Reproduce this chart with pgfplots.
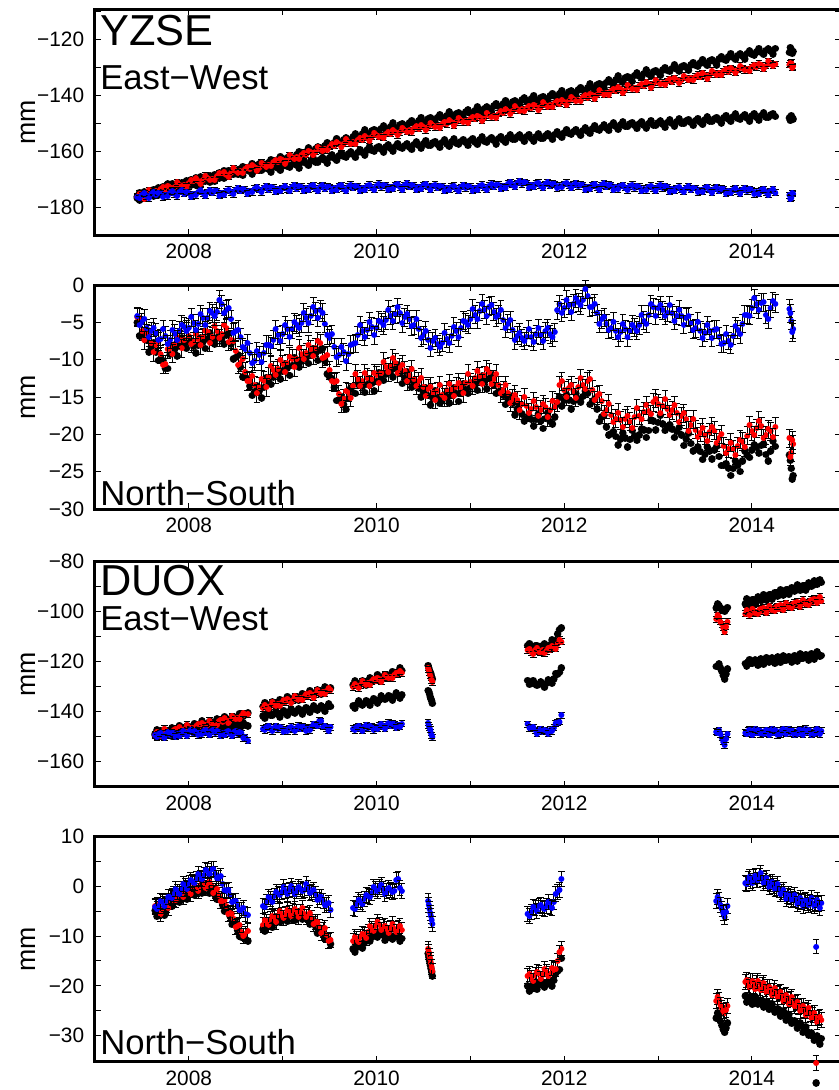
\documentclass[border=0pt]{standalone}
\usepackage{pgfplots}
\pgfplotsset{compat=1.18}
\usepackage{pgfplotstable}
\usepackage{fontspec}
\setmainfont{Liberation Sans}

% a cheap round dot: a very short stroke with round caps
\pgfdeclareplotmark{dot}{%
  \pgfpathmoveto{\pgfqpoint{0pt}{0pt}}%
  \pgfpathlineto{\pgfqpoint{0.01pt}{0pt}}%
  \pgfusepathqstroke}
% dot with its (fixed) black error bar and caps, drawn as one mark
\def\ebl{2pt}\def\ebcol{red}
\pgfdeclareplotmark{ebdot}{%
  \pgfsetlinewidth{0.6pt}\pgfsetbuttcap\pgfsetstrokecolor{black}%
  \pgfpathmoveto{\pgfqpoint{0pt}{-\ebl}}\pgfpathlineto{\pgfqpoint{0pt}{\ebl}}%
  \pgfpathmoveto{\pgfqpoint{-2pt}{-\ebl}}\pgfpathlineto{\pgfqpoint{2pt}{-\ebl}}%
  \pgfpathmoveto{\pgfqpoint{-2pt}{\ebl}}\pgfpathlineto{\pgfqpoint{2pt}{\ebl}}%
  \pgfusepathqstroke
  \pgfsetlinewidth{3.6pt}\pgfsetroundcap\pgfsetstrokecolor{\ebcol}%
  \pgfpathmoveto{\pgfqpoint{0pt}{0pt}}%
  \pgfpathlineto{\pgfqpoint{0.01pt}{0pt}}%
  \pgfusepathqstroke}

% YZSE: t, panel 1 (East-West) a1 c1 r1 b1, panel 2 (North-South) a2 c2 r2 b2
\pgfplotstableread{
t a1 c1 r1 b1 a2 c2 r2 b2
2007.45 -176.8 -176.2 -176.3 -176.4 -5.0 -5.1 -4.3 -4.2
2007.50 -175.6 -176.4 -176.0 -175.6 -6.8 -5.6 -6.2 -5.0
2007.55 -175.9 -175.2 -175.5 -176.2 -7.4 -6.4 -6.5 -5.8
2007.60 -174.4 -175.3 -174.6 -175.3 -8.3 -7.0 -7.8 -6.2
2007.65 -174.6 -173.9 -174.3 -175.8 -9.0 -7.3 -8.0 -6.4
2007.70 -173.5 -174.4 -173.5 -175.0 -9.9 -7.8 -9.3 -7.2
2007.75 -173.8 -173.1 -173.7 -175.6 -11.2 -7.9 -10.6 -6.8
2007.80 -172.6 -173.4 -172.8 -174.9 -9.3 -8.0 -8.4 -7.3
2007.85 -173.0 -172.3 -172.9 -175.4 -8.6 -7.4 -7.9 -6.5
2007.90 -172.0 -172.6 -171.9 -174.6 -8.2 -6.8 -7.3 -6.1
2007.95 -171.3 -171.8 -172.0 -175.3 -8.0 -6.5 -7.4 -5.6
2008.00 -171.8 -171.0 -171.3 -174.8 -7.7 -6.3 -6.8 -5.7
2008.05 -170.7 -171.4 -170.8 -175.3 -8.2 -6.0 -7.6 -5.1
2008.10 -171.0 -170.3 -170.5 -174.5 -8.1 -5.8 -7.2 -5.2
2008.15 -170.0 -170.7 -170.4 -175.1 -7.6 -5.3 -7.0 -4.4
2008.20 -169.8 -169.4 -169.5 -174.6 -7.2 -5.0 -6.3 -4.4
2008.25 -169.2 -169.9 -169.8 -174.9 -7.5 -4.7 -6.9 -3.8
2008.30 -169.3 -168.8 -169.0 -174.3 -7.1 -4.2 -6.2 -3.6
2008.35 -168.2 -168.9 -168.3 -175.0 -7.2 -3.6 -6.6 -2.6
2008.40 -168.3 -167.9 -168.4 -174.2 -6.7 -3.9 -5.8 -3.3
2008.45 -167.1 -168.3 -167.6 -174.7 -7.9 -5.5 -7.3 -4.6
2008.50 -167.4 -167.2 -167.0 -173.9 -9.7 -6.8 -8.8 -6.2
2008.55 -166.4 -167.6 -167.2 -174.3 -11.0 -7.9 -10.4 -7.0
2008.60 -166.3 -166.8 -166.3 -173.7 -12.4 -9.2 -11.6 -8.6
2008.65 -165.6 -167.3 -166.4 -174.2 -13.5 -10.0 -12.8 -9.1
2008.70 -165.7 -166.4 -165.5 -173.4 -14.3 -10.8 -13.4 -10.2
2008.75 -164.6 -166.8 -165.9 -173.9 -14.2 -10.3 -13.6 -9.4
2008.80 -164.8 -165.9 -164.9 -173.2 -13.7 -9.7 -12.8 -9.1
2008.85 -164.0 -166.4 -164.8 -173.8 -13.0 -8.9 -12.3 -8.0
2008.90 -163.9 -165.6 -164.0 -173.0 -12.3 -7.9 -11.4 -7.3
2008.95 -163.0 -166.0 -163.9 -173.6 -11.9 -7.6 -11.2 -6.7
2009.00 -163.3 -165.2 -163.2 -173.1 -11.5 -7.2 -10.6 -6.6
2009.05 -162.2 -165.4 -163.1 -173.6 -11.1 -6.8 -10.5 -5.9
2009.10 -162.3 -164.7 -162.2 -172.8 -10.8 -6.5 -9.9 -5.9
2009.15 -161.2 -165.0 -162.1 -173.4 -10.5 -6.2 -9.9 -5.3
2009.20 -161.0 -164.1 -161.3 -172.7 -10.2 -5.7 -9.3 -5.1
2009.25 -160.2 -164.3 -161.2 -173.3 -9.8 -5.3 -9.1 -4.4
2009.30 -160.1 -163.5 -160.3 -172.6 -9.3 -4.8 -8.6 -4.1
2009.35 -159.2 -163.8 -160.2 -173.4 -9.2 -4.4 -8.4 -3.5
2009.40 -158.9 -162.9 -159.3 -172.7 -8.7 -4.0 -7.8 -3.3
2009.45 -158.0 -163.2 -159.1 -173.5 -10.2 -5.8 -9.6 -5.2
2009.50 -157.8 -162.3 -158.3 -172.8 -12.3 -7.9 -11.4 -7.1
2009.55 -156.8 -162.4 -158.1 -173.3 -13.7 -9.0 -13.0 -8.3
2009.60 -156.7 -161.7 -157.4 -172.6 -15.4 -10.1 -14.6 -9.4
2009.65 -155.9 -161.9 -157.3 -173.4 -16.0 -9.9 -15.2 -9.0
2009.70 -155.7 -161.0 -156.6 -172.7 -15.2 -10.0 -14.4 -9.3
2009.75 -154.8 -161.2 -156.8 -173.2 -14.4 -8.6 -13.5 -7.9
2009.80 -154.7 -160.4 -155.9 -172.6 -13.3 -7.6 -12.6 -6.7
2009.85 -153.8 -160.5 -155.8 -173.3 -13.6 -6.9 -12.9 -6.2
2009.90 -153.6 -159.6 -155.1 -172.4 -13.3 -6.8 -12.4 -6.0
2009.95 -152.7 -159.8 -154.9 -173.0 -13.2 -6.5 -12.6 -5.6
2010.00 -152.8 -158.9 -154.2 -172.3 -12.9 -6.4 -12.1 -5.7
2010.05 -151.9 -159.2 -154.4 -172.9 -12.5 -5.9 -11.8 -5.0
2010.10 -152.0 -158.5 -153.7 -172.2 -11.9 -5.4 -11.0 -4.7
2010.15 -151.2 -159.0 -153.8 -172.8 -11.5 -5.0 -10.9 -4.1
2010.20 -151.4 -158.3 -153.0 -172.1 -11.2 -4.6 -10.4 -3.9
2010.25 -150.6 -158.7 -153.2 -172.9 -11.8 -4.7 -11.1 -3.8
2010.30 -150.8 -158.0 -152.4 -172.2 -12.4 -5.0 -11.5 -4.3
2010.35 -149.9 -158.4 -152.5 -172.8 -12.8 -5.5 -12.1 -4.6
2010.40 -150.0 -157.6 -151.8 -172.3 -13.4 -6.1 -12.6 -5.4
2010.45 -149.1 -158.0 -151.9 -172.9 -13.8 -6.8 -12.9 -5.9
2010.50 -149.3 -157.3 -151.2 -172.2 -14.3 -7.4 -13.6 -6.7
2010.55 -148.4 -157.7 -151.4 -172.8 -14.8 -8.0 -13.9 -7.3
2010.60 -148.6 -157.0 -150.7 -172.5 -15.1 -8.4 -14.4 -7.5
2010.65 -147.8 -157.5 -150.8 -173.2 -15.1 -8.6 -14.2 -7.9
2010.70 -148.0 -156.8 -150.1 -172.6 -15.4 -8.6 -14.7 -7.7
2010.75 -147.2 -157.3 -150.3 -173.3 -15.0 -7.9 -14.1 -7.2
2010.80 -147.4 -156.6 -149.5 -172.7 -14.7 -7.7 -14.0 -6.8
2010.85 -146.6 -157.1 -149.6 -173.4 -14.5 -6.9 -13.6 -6.2
2010.90 -146.9 -156.4 -148.9 -172.8 -14.4 -6.7 -13.7 -5.8
2010.95 -146.0 -156.9 -149.0 -173.3 -14.0 -5.8 -13.1 -5.0
2011.00 -146.3 -156.2 -148.3 -172.7 -13.7 -5.5 -13.0 -4.6
2011.05 -145.4 -156.7 -148.5 -173.2 -13.4 -4.7 -12.5 -4.0
2011.10 -145.5 -155.9 -147.8 -172.5 -12.9 -4.4 -12.2 -3.5
2011.15 -144.7 -156.4 -147.9 -173.0 -13.0 -4.0 -12.1 -3.3
2011.20 -144.9 -155.7 -147.1 -172.3 -12.5 -3.8 -11.7 -2.9
2011.25 -143.8 -156.2 -147.3 -172.8 -13.4 -4.3 -12.6 -3.6
2011.30 -144.0 -155.5 -146.5 -172.0 -14.3 -4.9 -13.4 -4.0
2011.35 -143.1 -156.0 -146.3 -172.5 -14.8 -5.4 -14.1 -4.7
2011.40 -143.3 -155.2 -145.6 -171.6 -15.3 -6.1 -14.4 -5.2
2011.45 -142.4 -155.6 -145.5 -172.0 -15.9 -6.7 -15.2 -6.0
2011.50 -142.5 -154.8 -144.8 -171.3 -16.6 -7.6 -15.4 -6.8
2011.55 -141.7 -155.3 -145.0 -171.8 -17.3 -7.8 -16.0 -7.1
2011.60 -142.0 -154.7 -144.4 -171.4 -17.9 -7.8 -16.2 -6.9
2011.65 -141.2 -155.4 -144.6 -172.1 -18.0 -7.7 -16.6 -7.0
2011.70 -141.5 -154.8 -143.9 -171.6 -18.0 -7.5 -16.3 -6.6
2011.75 -140.8 -155.3 -144.2 -172.3 -18.2 -7.4 -16.7 -6.7
2011.80 -141.0 -154.5 -143.4 -171.7 -17.9 -7.1 -16.4 -6.2
2011.85 -140.1 -154.6 -143.5 -172.4 -18.3 -7.3 -16.8 -6.6
2011.90 -140.3 -153.9 -142.7 -171.8 -17.7 -7.2 -16.4 -6.3
2011.95 -139.4 -154.2 -142.9 -172.3 -15.0 -3.3 -13.4 -2.6
2012.00 -139.7 -153.4 -142.3 -171.7 -15.5 -3.9 -14.1 -3.1
2012.05 -138.8 -153.6 -142.1 -172.2 -15.4 -3.5 -13.8 -2.7
2012.10 -139.0 -152.9 -141.4 -171.9 -15.6 -3.3 -14.2 -2.5
2012.15 -138.0 -153.3 -141.5 -172.6 -15.3 -3.0 -13.7 -2.3
2012.20 -138.2 -152.5 -140.7 -172.1 -14.9 -2.9 -13.4 -2.0
2012.25 -137.3 -152.9 -140.8 -172.8 -14.5 -2.4 -12.9 -1.5
2012.30 -137.2 -152.0 -139.9 -172.2 -15.6 -3.6 -14.0 -2.9
2012.35 -136.3 -152.1 -139.8 -172.9 -16.6 -4.6 -14.8 -3.8
2012.40 -136.2 -151.4 -139.1 -172.2 -17.7 -5.3 -15.6 -4.6
2012.45 -135.3 -151.6 -139.0 -172.8 -19.0 -6.0 -16.7 -5.2
2012.50 -135.4 -150.8 -138.3 -172.2 -19.9 -6.5 -17.4 -5.8
2012.55 -134.4 -151.2 -138.4 -172.9 -20.3 -7.0 -17.9 -6.1
2012.60 -134.6 -150.6 -137.8 -172.5 -20.6 -7.0 -18.1 -6.3
2012.65 -133.7 -151.0 -137.9 -173.2 -20.5 -6.8 -17.9 -5.9
2012.70 -133.8 -150.3 -137.1 -172.6 -20.7 -6.8 -18.3 -6.1
2012.75 -132.9 -150.8 -137.3 -173.3 -20.2 -6.5 -17.7 -5.7
2012.80 -133.1 -150.2 -136.5 -172.7 -20.1 -6.2 -17.5 -5.4
2012.85 -132.2 -150.7 -136.6 -173.4 -19.4 -5.5 -17.0 -4.8
2012.90 -132.4 -150.0 -135.9 -172.8 -19.5 -4.9 -16.9 -4.0
2012.95 -131.5 -150.5 -136.0 -173.3 -18.2 -3.8 -15.7 -3.0
2013.00 -131.7 -149.8 -135.3 -172.7 -18.4 -3.8 -15.9 -3.1
2013.05 -130.9 -150.3 -135.4 -173.3 -18.6 -4.2 -16.2 -3.4
2013.10 -131.1 -149.6 -134.8 -172.9 -19.1 -4.4 -16.6 -3.7
2013.15 -130.3 -150.1 -135.0 -173.6 -19.3 -4.7 -16.8 -3.8
2013.20 -130.5 -149.4 -134.4 -173.1 -19.6 -4.8 -17.1 -4.1
2013.25 -129.7 -149.9 -134.6 -173.8 -20.1 -5.1 -17.6 -4.2
2013.30 -129.9 -149.2 -133.8 -173.2 -20.6 -5.1 -18.0 -4.4
2013.35 -129.0 -149.7 -133.9 -173.9 -21.2 -5.9 -18.8 -5.1
2013.40 -129.2 -149.0 -133.2 -173.2 -22.0 -6.5 -19.4 -5.8
2013.45 -128.3 -149.5 -133.4 -173.8 -22.3 -6.9 -19.8 -6.1
2013.50 -128.6 -148.8 -132.8 -173.3 -22.7 -7.1 -20.1 -6.4
2013.55 -127.7 -149.1 -132.7 -173.9 -22.2 -6.9 -19.7 -6.1
2013.60 -127.9 -148.5 -132.0 -173.4 -22.1 -6.7 -19.5 -6.0
2013.65 -127.0 -148.8 -132.1 -174.1 -23.0 -7.7 -20.5 -6.9
2013.70 -127.1 -148.0 -131.3 -173.6 -24.2 -8.5 -21.6 -7.8
2013.75 -126.2 -148.4 -131.4 -174.3 -24.5 -8.4 -21.9 -7.5
2013.80 -126.4 -147.7 -130.7 -173.7 -24.6 -7.6 -22.0 -6.8
2013.85 -125.6 -148.3 -130.9 -174.4 -24.1 -6.8 -21.6 -6.0
2013.90 -125.8 -147.6 -130.3 -173.8 -23.6 -6.0 -21.0 -5.2
2013.95 -124.9 -148.1 -130.5 -174.4 -22.8 -4.8 -20.2 -4.0
2014.00 -125.2 -147.4 -129.8 -173.8 -22.1 -3.9 -19.6 -3.1
2014.05 -124.4 -147.9 -129.9 -174.5 -21.7 -3.5 -19.2 -2.6
2014.10 -124.6 -147.2 -129.2 -174.0 -21.5 -3.2 -18.9 -2.4
2014.15 -123.8 -147.7 -129.3 -174.7 -22.7 -4.7 -20.1 -4.0
2014.20 -124.0 -147.0 -128.6 -174.2 -22.2 -3.9 -19.6 -3.1
2014.25 -123.2 -147.5 -128.7 -174.8 -21.6 -3.3 -19.0 -2.5
2014.40 -124.5 -148.0 -129.0 -175.8 -22.8 -4.0 -20.5 -3.2
2014.42 -123.5 -147.2 -128.2 -176.6 -24.6 -5.6 -22.5 -4.8
2014.44 -124.2 -148.5 -129.6 -175.3 -25.5 -6.6 -21.3 -5.9
2007.475 -174.8 -177.5 -175.2 -176.9 -6.8 -4.6 -4.4 -5.4
2007.525 -176.9 -174.5 -177.0 -175.1 -6.3 -6.9 -7.4 -4.5
2007.575 -174.6 -175.8 -173.8 -176.9 -9.0 -6.2 -6.6 -7.0
2007.625 -176.0 -173.7 -175.1 -174.6 -7.7 -7.9 -9.0 -5.7
2007.675 -173.1 -175.6 -174.9 -174.9 -10.1 -6.6 -7.6 -7.3
2007.725 -174.4 -172.7 -172.8 -176.5 -10.1 -8.9 -10.7 -5.9
2007.775 -171.8 -174.5 -172.3 -176.2 -11.2 -7.2 -8.6 -7.9
2007.825 -173.9 -171.6 -174.1 -174.4 -8.2 -8.6 -9.2 -6.0
2007.875 -171.9 -173.0 -171.1 -176.1 -9.5 -6.6 -7.0 -7.3
2007.925 -173.2 -171.3 -172.6 -174.0 -7.1 -7.4 -8.5 -5.3
2007.975 -170.6 -172.8 -172.7 -174.6 -8.5 -5.4 -6.0 -6.2
2008.025 -172.0 -170.1 -170.3 -176.3 -7.5 -7.2 -7.9 -4.3
2008.075 -169.5 -172.1 -169.7 -175.8 -9.1 -5.1 -6.5 -6.0
2008.125 -171.6 -169.2 -171.7 -174.0 -7.1 -6.5 -8.1 -3.9
2008.175 -169.3 -170.6 -168.7 -176.0 -8.5 -4.7 -6.1 -5.4
2008.225 -171.0 -168.8 -170.3 -173.8 -6.4 -5.6 -7.7 -3.5
2008.275 -168.3 -170.8 -170.4 -174.1 -7.9 -3.5 -5.5 -4.2
2008.325 -169.5 -167.8 -167.9 -175.9 -6.7 -4.9 -7.1 -2.0
2008.375 -166.9 -169.6 -167.4 -175.5 -7.9 -3.0 -5.3 -3.8
2008.425 -168.8 -166.8 -169.2 -173.7 -6.5 -5.6 -7.6 -3.1
2008.475 -166.7 -168.3 -166.0 -175.4 -9.9 -5.7 -7.5 -6.4
2008.525 -168.4 -166.5 -167.7 -173.1 -9.4 -8.1 -10.7 -6.0
2008.575 -165.4 -168.6 -167.8 -173.5 -12.3 -7.6 -9.9 -8.3
2008.625 -166.7 -166.0 -165.6 -175.2 -12.5 -10.6 -12.9 -7.8
2008.675 -164.3 -168.1 -165.0 -174.7 -14.8 -9.6 -12.2 -10.5
2008.725 -166.3 -165.3 -166.9 -172.9 -13.5 -11.5 -14.5 -8.9
2008.775 -164.1 -166.9 -164.1 -174.7 -15.1 -9.5 -12.6 -10.3
2008.825 -165.9 -165.3 -165.5 -172.5 -12.4 -10.0 -13.7 -8.0
2008.875 -163.0 -167.4 -165.4 -172.9 -13.3 -7.4 -10.8 -8.2
2008.925 -164.2 -164.7 -163.2 -174.5 -11.6 -8.8 -12.0 -5.9
2008.975 -161.8 -166.8 -162.6 -174.3 -12.6 -6.6 -10.0 -7.5
2009.025 -163.9 -164.0 -164.4 -172.6 -10.5 -7.9 -11.6 -5.4
2009.075 -161.7 -165.6 -161.4 -174.3 -12.1 -6.2 -9.6 -6.9
2009.125 -163.3 -164.0 -162.8 -172.1 -9.7 -7.1 -11.0 -5.0
2009.175 -160.1 -166.0 -162.7 -172.6 -11.0 -5.0 -8.5 -5.7
2009.225 -161.3 -163.1 -160.5 -174.2 -9.5 -6.5 -9.9 -3.7
2009.275 -158.8 -165.1 -159.8 -173.9 -10.5 -4.3 -8.0 -5.1
2009.325 -160.8 -162.4 -161.5 -172.2 -8.5 -5.5 -9.5 -2.9
2009.375 -158.5 -163.9 -158.5 -174.2 -10.1 -3.7 -7.5 -4.4
2009.425 -160.0 -162.2 -159.8 -172.1 -8.5 -5.6 -9.8 -3.7
2009.475 -156.9 -164.2 -159.7 -172.7 -11.9 -5.9 -9.4 -6.7
2009.525 -158.0 -161.3 -157.4 -174.3 -12.5 -9.5 -12.9 -6.6
2009.575 -155.4 -163.3 -156.8 -173.9 -15.5 -8.8 -12.9 -9.7
2009.625 -157.4 -160.5 -158.6 -172.2 -14.9 -10.9 -15.9 -8.3
2009.675 -155.2 -162.0 -155.7 -174.2 -16.7 -9.5 -14.2 -10.2
2009.725 -156.8 -160.2 -157.3 -172.0 -13.8 -10.0 -15.1 -8.0
2009.775 -153.8 -162.2 -157.4 -172.4 -14.5 -7.1 -11.9 -7.8
2009.825 -155.0 -159.4 -155.1 -174.2 -13.0 -8.3 -13.5 -5.4
2009.875 -152.3 -161.3 -154.5 -173.8 -14.4 -6.1 -11.8 -6.9
2009.925 -154.3 -158.4 -156.2 -171.9 -12.5 -7.6 -13.5 -4.9
2009.975 -152.2 -159.9 -153.3 -173.8 -14.2 -6.0 -11.8 -6.7
2010.025 -153.9 -158.2 -154.9 -171.6 -11.7 -6.9 -13.1 -4.8
2010.075 -151.0 -160.3 -155.1 -172.1 -12.8 -4.7 -10.3 -5.4
2010.125 -152.3 -157.7 -153.0 -173.7 -11.2 -6.2 -11.7 -3.3
2010.175 -149.9 -159.9 -152.4 -173.4 -12.3 -4.0 -9.8 -4.8
2010.225 -152.1 -157.2 -154.3 -171.7 -10.7 -5.6 -11.8 -3.0
2010.275 -150.1 -158.9 -151.5 -173.7 -13.2 -4.4 -10.7 -5.1
2010.325 -151.9 -157.3 -153.1 -171.5 -11.6 -6.0 -12.9 -3.9
2010.375 -149.0 -159.4 -153.2 -172.1 -13.7 -4.8 -11.3 -5.5
2010.425 -150.3 -156.7 -151.1 -173.8 -13.1 -7.5 -13.5 -4.6
2010.475 -147.8 -158.9 -150.6 -173.5 -15.0 -6.3 -12.4 -7.1
2010.525 -150.0 -156.2 -152.5 -171.7 -13.8 -8.6 -14.8 -6.1
2010.575 -147.9 -157.9 -149.8 -173.8 -16.1 -7.7 -13.6 -8.4
2010.625 -149.7 -156.4 -151.4 -171.9 -14.1 -9.2 -15.4 -7.1
2010.675 -146.9 -158.6 -151.5 -172.4 -15.9 -7.6 -13.4 -8.3
2010.725 -148.3 -155.9 -149.4 -174.2 -14.7 -9.3 -15.1 -6.4
2010.775 -145.9 -158.2 -148.9 -173.9 -15.8 -7.0 -13.2 -7.8
2010.825 -148.1 -155.6 -150.8 -172.3 -13.8 -8.2 -14.8 -5.6
2010.875 -146.2 -157.3 -148.0 -174.2 -15.6 -6.3 -13.1 -7.0
2010.925 -148.0 -155.8 -149.6 -172.1 -13.2 -7.0 -14.5 -4.8
2010.975 -145.2 -158.0 -149.7 -172.5 -14.5 -4.7 -11.9 -5.3
2011.025 -146.6 -155.4 -147.6 -174.2 -13.1 -6.1 -13.5 -3.2
2011.075 -144.1 -157.5 -147.2 -173.8 -14.1 -3.8 -11.5 -4.6
2011.125 -146.2 -154.9 -149.1 -172.0 -12.2 -5.1 -13.2 -2.5
2011.175 -144.2 -156.6 -146.2 -173.8 -13.9 -3.4 -11.3 -4.1
2011.225 -145.9 -155.1 -147.8 -171.6 -12.0 -4.8 -13.3 -2.7
2011.275 -142.9 -157.3 -147.9 -171.9 -14.5 -3.6 -11.9 -4.3
2011.325 -144.3 -154.7 -145.6 -173.5 -14.1 -6.2 -14.5 -3.3
2011.375 -141.8 -156.8 -145.0 -173.0 -16.0 -5.0 -13.4 -5.8
2011.425 -144.0 -154.1 -146.8 -171.0 -14.8 -7.3 -15.8 -4.7
2011.475 -141.9 -155.7 -143.9 -172.8 -17.4 -6.7 -14.7 -7.4
2011.525 -143.6 -154.2 -145.5 -170.6 -16.0 -8.4 -16.8 -6.4
2011.575 -140.9 -156.4 -145.7 -171.1 -18.2 -6.8 -15.0 -7.5
2011.625 -142.3 -153.9 -143.7 -173.0 -17.5 -8.8 -17.1 -5.9
2011.675 -140.0 -156.3 -143.3 -172.8 -18.9 -6.8 -15.6 -7.6
2011.725 -142.3 -153.8 -145.3 -171.2 -17.3 -8.4 -17.5 -5.8
2011.775 -140.3 -155.4 -142.5 -173.1 -19.2 -6.8 -16.0 -7.5
2011.825 -142.1 -153.7 -144.1 -171.1 -17.1 -7.9 -17.7 -5.8
2011.875 -139.2 -155.7 -144.1 -171.6 -18.6 -6.3 -15.5 -7.0
2011.925 -140.6 -153.0 -142.0 -173.3 -16.0 -6.0 -15.7 -3.4
2011.975 -138.2 -155.0 -141.6 -172.9 -16.2 -2.8 -12.9 -3.7
2012.025 -140.4 -152.2 -143.4 -171.2 -14.7 -4.6 -15.0 -2.0
2012.075 -138.3 -153.8 -140.5 -173.2 -16.6 -2.9 -13.4 -3.6
2012.125 -140.0 -152.2 -142.1 -171.3 -14.5 -3.9 -15.1 -1.8
2012.175 -137.1 -154.3 -142.1 -171.9 -15.7 -2.0 -12.5 -2.7
2012.225 -138.5 -151.6 -140.0 -173.7 -14.2 -3.7 -13.9 -0.6
2012.275 -135.9 -153.7 -139.4 -173.4 -16.0 -2.2 -12.6 -3.0
2012.325 -137.9 -150.8 -141.1 -171.8 -15.3 -5.0 -15.4 -2.5
2012.375 -135.7 -152.3 -138.2 -173.7 -18.3 -4.5 -14.6 -5.2
2012.425 -137.3 -150.6 -139.7 -171.5 -17.4 -6.4 -17.3 -4.3
2012.475 -134.4 -152.6 -139.7 -172.0 -20.1 -5.3 -15.9 -6.0
2012.525 -135.6 -149.9 -137.6 -173.8 -19.6 -7.8 -18.4 -4.9
2012.575 -133.1 -152.1 -137.1 -173.6 -21.4 -6.2 -17.1 -7.0
2012.625 -135.3 -149.5 -139.1 -172.1 -19.8 -7.8 -19.0 -5.2
2012.675 -133.2 -151.2 -136.2 -174.0 -21.7 -6.3 -17.5 -7.0
2012.725 -134.9 -149.7 -137.8 -172.0 -19.5 -7.4 -19.1 -5.3
2012.775 -132.0 -151.9 -137.9 -172.5 -20.8 -5.4 -16.5 -6.1
2012.825 -133.4 -149.4 -135.8 -174.3 -19.3 -6.9 -18.0 -4.0
2012.875 -130.9 -151.6 -135.3 -174.0 -20.4 -4.4 -16.1 -5.2
2012.925 -133.1 -149.0 -137.2 -172.3 -18.1 -5.3 -17.3 -2.6
2012.975 -131.0 -150.7 -134.4 -174.1 -19.4 -3.3 -15.2 -4.1
2013.025 -132.8 -149.2 -136.0 -172.0 -17.5 -4.7 -17.2 -2.7
2013.075 -130.0 -151.4 -136.1 -172.6 -19.5 -3.3 -15.3 -4.1
2013.125 -131.4 -148.7 -134.1 -174.5 -18.7 -5.6 -17.4 -2.7
2013.175 -129.0 -151.0 -133.7 -174.3 -20.4 -4.0 -16.1 -4.8
2013.225 -131.2 -148.4 -135.7 -172.7 -19.1 -5.9 -18.4 -3.3
2013.275 -129.2 -150.1 -132.9 -174.6 -21.5 -4.6 -17.2 -5.3
2013.325 -131.0 -148.6 -134.5 -172.6 -19.9 -6.2 -19.5 -4.2
2013.375 -128.1 -150.8 -134.6 -173.1 -22.2 -5.2 -18.0 -6.0
2013.425 -129.5 -148.2 -132.5 -174.7 -21.7 -7.7 -20.3 -4.9
2013.475 -127.1 -150.4 -132.1 -174.5 -23.4 -6.2 -19.1 -7.1
2013.525 -129.3 -147.7 -134.0 -172.8 -21.7 -7.9 -20.9 -5.4
2013.575 -127.2 -149.3 -131.1 -174.8 -23.3 -6.3 -19.0 -7.1
2013.625 -129.0 -147.8 -132.7 -172.8 -21.6 -7.9 -21.1 -5.9
2013.675 -126.1 -149.8 -132.7 -173.4 -24.2 -7.1 -20.0 -7.9
2013.725 -127.4 -147.1 -130.6 -175.2 -23.9 -9.5 -22.5 -6.6
2013.775 -124.9 -149.3 -130.1 -174.9 -25.5 -7.2 -21.1 -8.0
2013.825 -127.1 -146.7 -132.0 -173.3 -23.6 -8.1 -22.8 -5.5
2013.875 -125.1 -148.5 -129.3 -175.2 -25.0 -5.9 -20.7 -6.6
2013.925 -126.9 -146.9 -131.0 -173.1 -22.2 -6.1 -21.7 -4.0
2013.975 -124.1 -149.2 -131.2 -173.6 -23.1 -3.4 -18.8 -4.1
2014.025 -125.5 -146.5 -129.1 -175.4 -21.4 -4.7 -20.1 -1.8
2014.075 -123.1 -148.8 -128.6 -175.2 -22.5 -2.6 -18.2 -3.3
2014.125 -125.3 -146.2 -130.5 -173.6 -21.3 -4.9 -20.5 -2.3
2014.175 -123.3 -147.9 -127.7 -175.6 -23.6 -3.8 -19.3 -4.6
2014.225 -125.1 -146.4 -129.3 -173.5 -20.9 -4.3 -20.4 -2.2
2014.41 -122.8 -149.0 -128.5 -177.0 -23.5 -4.5 -23.0 -3.8
2014.43 -125.0 -147.8 -130.0 -175.0 -26.0 -6.0 -20.8 -6.3
}\yzse

% DUOX: t, panel 3 (East-West) a3 c3 r3 b3, panel 4 (North-South) a4 c4 r4 b4
\pgfplotstableread{
t a3 c3 r3 b3 a4 c4 r4 b4
2007.64 -149.0 -149.4 -149.3 -149.5 -4.9 -4.8 -4.0 -4.1
2007.68 -148.3 -148.9 -148.6 -149.0 -5.8 -4.6 -5.0 -3.9
2007.72 -148.4 -149.2 -148.5 -149.8 -5.3 -3.9 -4.5 -3.2
2007.76 -147.6 -148.5 -147.9 -148.9 -4.6 -3.6 -3.7 -2.9
2007.80 -147.9 -148.7 -148.2 -149.4 -3.8 -2.9 -3.1 -2.2
2007.84 -147.0 -148.2 -147.5 -148.6 -3.3 -2.3 -2.5 -1.6
2007.88 -147.3 -148.4 -147.7 -149.1 -2.6 -1.9 -1.9 -1.2
2007.92 -146.4 -147.8 -146.8 -148.4 -2.4 -1.2 -1.6 -0.5
2007.96 -146.7 -148.0 -147.0 -148.9 -1.7 -0.7 -0.9 0.1
2008.00 -145.9 -147.4 -146.2 -148.1 -1.6 -0.3 -0.8 0.6
2008.04 -146.1 -147.6 -146.5 -148.6 -1.1 0.2 -0.3 0.8
2008.08 -145.3 -147.0 -145.6 -147.9 -1.3 0.7 -0.5 1.4
2008.12 -145.6 -147.3 -145.9 -148.5 -0.8 1.0 0.0 1.7
2008.16 -144.7 -146.7 -145.1 -147.8 -0.4 1.5 0.3 2.2
2008.20 -145.0 -147.0 -145.2 -148.4 -0.3 2.3 0.6 3.0
2008.24 -144.2 -146.5 -144.5 -147.9 -0.6 2.6 0.2 3.4
2008.28 -144.4 -146.8 -144.8 -148.6 -1.8 1.7 -1.0 2.4
2008.32 -143.6 -146.2 -143.9 -148.0 -2.6 0.9 -1.8 1.6
2008.36 -143.8 -146.5 -144.1 -148.7 -3.8 -0.2 -3.0 0.5
2008.40 -143.0 -146.0 -143.3 -148.1 -4.8 -1.6 -4.0 -0.9
2008.44 -143.2 -146.3 -143.6 -148.9 -6.1 -2.4 -5.3 -1.8
2008.48 -142.3 -145.8 -142.6 -148.3 -7.4 -3.6 -6.6 -2.9
2008.52 -142.0 -145.6 -142.4 -149.0 -8.9 -4.6 -8.0 -3.9
2008.56 -141.4 -145.9 -141.7 -148.6 -10.2 -5.4 -9.2 -4.8
2008.60 -140.9 -145.3 -141.2 -150.2 -10.6 -6.1 -9.6 -5.5
2008.63 -140.6 -145.7 -141.0 -151.6 -11.0 -6.3 -9.0 -5.8
2008.79 -137.9 -141.7 -138.6 -146.8 -8.6 -4.7 -7.8 -4.0
2008.83 -137.4 -141.2 -138.0 -146.2 -8.0 -3.9 -7.2 -3.2
2008.87 -137.1 -141.4 -137.8 -147.0 -7.6 -3.3 -6.6 -2.6
2008.91 -136.5 -140.8 -137.2 -146.4 -7.1 -2.5 -6.4 -1.9
2008.95 -136.4 -141.0 -137.0 -147.1 -6.9 -2.2 -6.0 -1.5
2008.99 -135.7 -140.5 -136.4 -146.5 -6.5 -1.8 -5.7 -1.1
2009.03 -135.6 -140.6 -136.2 -147.2 -6.6 -1.7 -5.6 -1.0
2009.07 -134.9 -140.1 -135.6 -146.6 -6.1 -1.5 -5.3 -0.8
2009.11 -134.8 -140.3 -135.4 -147.0 -5.9 -1.4 -5.0 -0.6
2009.15 -134.1 -139.7 -134.8 -146.4 -6.0 -1.5 -5.2 -0.9
2009.19 -134.0 -139.8 -134.6 -146.9 -5.8 -1.2 -5.1 -0.5
2009.23 -133.3 -139.3 -134.0 -146.3 -6.3 -1.4 -5.5 -0.7
2009.27 -133.2 -139.5 -133.8 -146.8 -6.6 -1.0 -5.7 -0.3
2009.31 -132.6 -138.9 -133.2 -146.2 -7.2 -1.8 -6.4 -1.1
2009.35 -132.4 -139.0 -133.1 -145.4 -8.0 -2.3 -7.2 -1.6
2009.39 -131.6 -138.5 -132.3 -143.6 -8.9 -2.8 -8.1 -2.2
2009.43 -131.5 -138.7 -132.2 -146.0 -9.6 -3.6 -8.8 -2.9
2009.47 -130.8 -138.2 -131.6 -146.6 -10.5 -4.5 -9.7 -3.8
2009.51 -130.6 -138.0 -131.4 -146.2 -11.6 -5.4 -10.8 -4.7
2009.75 -129.4 -137.8 -130.2 -146.8 -12.6 -5.0 -11.0 -4.3
2009.79 -128.9 -137.2 -129.6 -146.2 -12.3 -4.4 -10.6 -3.6
2009.83 -128.6 -136.9 -129.4 -146.9 -11.6 -3.8 -10.2 -3.1
2009.87 -127.9 -136.7 -128.7 -146.3 -11.4 -3.3 -9.8 -2.5
2009.91 -127.8 -136.2 -128.6 -146.7 -10.8 -2.7 -9.1 -2.0
2009.95 -127.1 -136.0 -127.9 -145.9 -10.2 -2.2 -8.6 -1.4
2009.99 -126.9 -135.5 -127.7 -146.4 -9.6 -1.4 -7.9 -0.6
2010.03 -126.3 -135.3 -127.0 -145.6 -9.4 -1.0 -7.7 -0.2
2010.07 -126.1 -134.8 -126.8 -146.0 -9.8 -1.4 -8.2 -0.6
2010.11 -125.4 -134.6 -126.2 -145.3 -10.1 -1.8 -8.5 -1.0
2010.15 -125.2 -134.1 -126.0 -145.7 -9.9 -1.5 -8.3 -0.7
2010.19 -124.5 -133.9 -125.3 -145.0 -10.3 -1.7 -8.6 -0.9
2010.23 -124.2 -133.5 -125.0 -145.4 -10.0 -1.2 -8.4 1.5
2010.27 -123.6 -133.3 -124.6 -144.8 -10.5 -1.9 -8.8 -1.0
2010.550 -121.5 -131.5 -122.5 -144.5 -13.5 -3.6 -12.5 -3.0
2010.565 -123.5 -133.0 -124.5 -146.5 -15.0 -5.1 -14.0 -4.5
2010.580 -125.0 -135.0 -126.5 -148.5 -16.5 -6.6 -15.5 -6.0
2010.595 -127.0 -136.8 -128.3 -150.3 -18.0 -8.1 -17.0 -7.5
2011.61 -113.5 -127.5 -115.5 -145.0 -20.0 -6.2 -18.0 -5.5
2011.65 -114.6 -128.5 -116.2 -146.5 -20.6 -5.9 -18.5 -5.2
2011.69 -113.8 -129.0 -115.4 -147.5 -19.9 -5.1 -17.8 -4.4
2011.73 -114.4 -129.2 -116.0 -148.0 -19.6 -4.7 -17.5 -4.0
2011.77 -113.6 -129.0 -115.3 -148.0 -19.9 -5.0 -17.8 -4.3
2011.81 -114.2 -128.8 -115.8 -147.8 -19.4 -4.6 -17.3 -3.9
2011.85 -113.4 -128.0 -115.2 -147.3 -19.7 -4.9 -17.6 -4.2
2011.89 -112.0 -127.0 -114.4 -146.5 -18.9 -3.9 -16.8 -3.2
2011.93 -109.0 -125.0 -113.0 -144.5 -17.0 -1.9 -15.0 -1.2
2011.97 -106.5 -122.5 -112.0 -141.5 -14.5 0.8 -12.5 1.5
2013.62 -98.5 -122.0 -103.0 -148.0 -26.5 -3.6 -23.0 -3.0
2013.65 -97.5 -121.0 -102.0 -147.5 -26.0 -3.4 -22.8 -2.8
2013.68 -99.0 -124.0 -105.0 -150.5 -28.0 -5.1 -24.5 -4.5
2013.71 -100.0 -127.0 -108.0 -153.5 -29.4 -6.8 -25.5 -6.2
2013.74 -98.3 -123.0 -104.0 -149.0 -27.5 -4.6 -24.0 -4.0
2013.93 -96.9 -120.8 -100.9 -148.4 -22.0 0.1 -19.2 0.6
2013.96 -95.6 -120.2 -100.0 -147.6 -22.9 0.6 -19.9 1.4
2013.99 -96.3 -120.6 -100.5 -148.6 -22.4 0.4 -19.0 1.0
2014.02 -95.2 -120.0 -99.7 -147.7 -23.1 1.1 -20.1 1.8
2014.05 -95.9 -120.5 -100.3 -148.5 -22.6 0.7 -19.4 1.3
2014.08 -94.4 -119.7 -99.2 -147.4 -23.5 1.3 -20.5 2.1
2014.11 -95.3 -120.3 -99.9 -148.3 -23.0 0.8 -19.8 1.5
2014.14 -93.9 -119.5 -99.0 -147.6 -24.0 0.4 -20.6 1.1
2014.17 -94.6 -119.9 -99.5 -148.7 -23.4 0.0 -20.3 0.7
2014.20 -93.2 -119.3 -98.6 -147.5 -24.3 -0.2 -21.1 0.5
2014.23 -93.9 -119.7 -99.1 -148.4 -24.5 -0.7 -21.0 0.0
2014.26 -92.6 -119.0 -98.3 -147.6 -25.1 -0.9 -21.7 -0.3
2014.29 -93.3 -119.5 -98.8 -148.8 -24.9 -1.5 -21.5 -0.8
2014.32 -92.0 -118.8 -97.8 -147.5 -25.8 -1.8 -22.3 -1.1
2014.35 -92.6 -119.3 -98.3 -148.2 -25.5 -2.3 -22.0 -1.6
2014.38 -91.4 -118.6 -97.4 -147.3 -26.4 -2.6 -22.9 -2.0
2014.41 -91.9 -119.0 -97.9 -148.6 -26.8 -2.9 -22.6 -2.2
2014.44 -90.8 -118.4 -97.0 -147.6 -27.3 -3.3 -23.6 -2.6
2014.47 -91.3 -118.8 -97.5 -148.4 -27.4 -3.5 -23.4 -2.8
2014.50 -90.2 -118.1 -96.6 -147.5 -28.2 -3.7 -24.3 -3.0
2014.53 -90.8 -118.5 -97.0 -148.7 -28.0 -3.9 -24.0 -3.2
2014.56 -89.6 -117.9 -96.2 -147.4 -28.9 -3.6 -24.9 -2.9
2014.59 -90.1 -118.3 -96.6 -148.3 -29.2 -4.1 -25.0 -3.4
2014.62 -89.0 -117.7 -95.8 -147.6 -29.6 -3.8 -25.6 -3.1
2014.65 -89.6 -118.1 -96.3 -148.5 -30.1 -4.2 -25.9 -3.5
2014.68 -88.5 -117.5 -95.5 -147.5 -30.4 -4.0 -26.4 -3.3
2014.71 -87.6 -117.3 -95.0 -148.2 -31.0 -4.3 -26.5 -3.6
2014.74 -88.3 -117.6 -95.6 -147.7 -30.6 -4.1 -26.9 -3.4
2014.685 nan nan nan nan -39.5 nan -35.5 -12.1
2007.66 -147.3 -150.4 -148.0 -150.2 -6.1 -4.1 -3.8 -4.6
2007.70 -149.5 -147.8 -149.8 -148.6 -5.0 -5.0 -5.6 -2.9
2007.74 -147.4 -149.4 -146.9 -150.5 -5.9 -3.4 -3.6 -3.9
2007.78 -149.3 -147.7 -148.7 -148.2 -3.4 -3.9 -4.3 -2.1
2007.82 -146.5 -149.9 -148.9 -148.5 -4.1 -1.8 -1.9 -2.3
2007.86 -147.9 -147.2 -146.8 -150.1 -2.6 -2.9 -2.8 -0.5
2007.90 -145.5 -149.3 -146.3 -149.7 -3.2 -1.0 -1.1 -1.5
2007.94 -147.7 -146.6 -148.1 -147.9 -1.5 -1.7 -2.1 0.5
2007.98 -145.7 -148.2 -145.3 -149.6 -2.6 -0.1 -0.4 -0.5
2008.02 -147.5 -146.6 -147.0 -147.4 -0.6 -0.7 -1.5 1.2
2008.06 -144.7 -148.7 -147.1 -147.8 -1.7 1.3 0.5 0.7
2008.10 -146.2 -146.1 -145.0 -149.4 -0.7 0.1 -0.9 2.5
2008.14 -143.8 -148.2 -144.5 -149.1 -1.3 1.9 0.9 1.4
2008.18 -146.0 -145.6 -146.4 -147.3 0.3 1.2 -0.4 3.3
2008.22 -144.0 -147.3 -143.6 -149.3 -1.4 2.9 0.9 2.4
2008.26 -145.8 -145.8 -145.3 -147.3 -0.4 1.6 -1.3 3.4
2008.30 -143.0 -147.9 -145.4 -147.8 -2.7 2.1 -0.5 1.6
2008.34 -144.4 -145.3 -143.2 -149.6 -2.8 -0.5 -3.0 2.0
2008.38 -142.0 -147.5 -142.7 -149.3 -5.0 -0.3 -2.8 -0.8
2008.42 -144.2 -144.9 -144.7 -147.7 -4.9 -2.7 -5.5 -0.7
2008.46 -142.2 -146.6 -141.8 -149.7 -7.7 -2.6 -5.5 -3.2
2008.50 -143.7 -144.8 -143.1 -147.7 -7.4 -4.7 -8.2 -2.9
2008.54 -140.7 -147.2 -143.1 -148.3 -10.1 -4.2 -7.7 -4.8
2008.58 -141.9 -144.5 -140.6 -150.6 -10.0 -6.6 -10.0 -4.3
2008.81 -136.3 -142.7 -137.3 -147.4 -9.0 -3.7 -6.8 -4.2
2008.85 -138.4 -140.0 -139.1 -145.8 -7.2 -4.3 -7.7 -2.2
2008.89 -136.2 -141.6 -136.2 -147.8 -8.3 -2.5 -6.0 -3.1
2008.93 -138.0 -140.0 -137.7 -145.8 -6.2 -3.0 -7.1 -1.2
2008.97 -135.1 -142.2 -137.7 -146.3 -7.2 -1.2 -5.0 -1.7
2009.01 -136.4 -139.5 -135.5 -148.1 -6.2 -2.6 -6.3 -0.2
2009.05 -133.9 -141.6 -134.9 -147.8 -7.1 -1.0 -4.8 -1.5
2009.09 -136.0 -138.9 -136.7 -146.0 -5.4 -2.2 -6.0 0.0
2009.13 -133.9 -140.5 -133.8 -147.8 -6.9 -1.1 -4.6 -1.6
2009.17 -135.6 -138.9 -135.3 -145.7 -5.1 -2.0 -6.1 -0.2
2009.21 -132.7 -141.0 -135.3 -146.1 -6.6 -0.5 -4.4 -1.0
2009.25 -134.0 -138.3 -133.1 -147.8 -6.1 -2.0 -6.2 0.4
2009.29 -131.5 -140.4 -132.5 -147.4 -7.6 -0.8 -5.4 -1.3
2009.33 -133.6 -137.7 -134.4 -145.0 -7.0 -2.8 -7.6 -0.7
2009.37 -131.4 -139.3 -131.4 -145.6 -9.4 -2.2 -7.2 -2.7
2009.41 -133.1 -137.7 -132.9 -143.8 -8.5 -3.8 -9.4 -2.1
2009.45 -130.2 -139.9 -132.9 -145.8 -10.6 -3.3 -8.4 -3.8
2009.49 -131.4 -137.0 -130.7 -147.6 -10.7 -5.8 -10.9 -3.4
2009.77 -127.8 -138.7 -128.9 -147.4 -13.2 -4.1 -10.1 -4.6
2009.81 -129.9 -135.8 -130.7 -145.8 -11.4 -4.8 -11.2 -2.7
2009.85 -127.7 -137.3 -127.8 -147.7 -12.4 -3.2 -9.5 -3.6
2009.89 -129.4 -135.6 -129.3 -145.5 -10.3 -3.6 -10.4 -1.8
2009.93 -126.5 -137.5 -129.3 -145.8 -11.0 -1.7 -8.0 -2.1
2009.97 -127.7 -134.7 -127.0 -147.4 -9.5 -2.6 -8.9 -0.1
2010.01 -125.2 -136.6 -126.4 -146.9 -10.2 -0.6 -7.1 -1.0
2010.05 -127.3 -133.8 -128.1 -145.0 -9.0 -1.9 -8.8 0.3
2010.09 -125.2 -135.2 -125.2 -146.8 -10.9 -1.2 -7.9 -1.6
2010.13 -126.8 -133.5 -126.7 -144.5 -9.2 -2.3 -9.3 -0.4
2010.17 -123.9 -135.4 -126.7 -144.9 -10.6 -0.8 -7.6 -1.2
2010.21 -125.1 -132.6 -124.4 -146.4 -9.8 -2.3 -9.1 1.2
2010.25 -122.5 -134.6 -123.8 -146.0 -11.0 -1.0 -7.9 -0.4
2010.557 -122.5 -132.0 -123.3 -145.6 -14.2 -4.3 -13.2 -3.7
2010.573 -124.3 -134.2 -125.6 -147.3 -15.8 -5.8 -14.7 -5.3
2010.588 -126.2 -135.8 -127.4 -149.5 -17.2 -7.3 -16.3 -6.8
2011.63 -112.7 -129.2 -114.9 -146.6 -21.0 -5.5 -17.6 -6.0
2011.67 -115.3 -127.5 -117.0 -146.2 -19.7 -6.2 -19.0 -4.1
2011.71 -113.5 -129.6 -114.4 -148.9 -20.7 -4.5 -17.2 -5.0
2011.75 -115.5 -128.2 -116.3 -147.0 -19.0 -5.5 -18.6 -3.7
2011.79 -112.9 -130.3 -116.6 -147.4 -20.2 -4.0 -16.7 -4.5
2011.83 -114.5 -127.3 -114.7 -148.8 -19.2 -5.6 -18.1 -3.2
2011.87 -111.3 -128.7 -113.8 -147.8 -20.0 -3.8 -16.5 -4.3
2011.91 -111.6 -124.7 -114.9 -144.7 -17.4 -3.6 -16.7 -1.5
2011.95 -107.2 -124.3 -111.2 -144.1 -16.7 -0.2 -13.3 -0.7
2013.635 -97.0 -121.8 -101.5 -148.5 -25.5 -2.8 -22.2 -2.2
2013.665 -98.8 -122.5 -104.0 -149.0 -27.2 -4.4 -23.8 -3.8
2013.695 -99.5 -125.5 -106.5 -152.0 -28.8 -6.0 -25.0 -5.4
2013.725 -99.2 -125.0 -106.0 -151.0 -28.5 -5.5 -24.8 -5.2
2013.945 -94.9 -121.7 -99.5 -148.9 -23.2 1.0 -18.9 0.4
2013.975 -97.1 -119.1 -101.5 -147.3 -22.1 -0.2 -20.3 1.9
2014.005 -95.2 -120.8 -98.8 -149.3 -23.7 1.2 -19.1 0.6
2014.035 -97.1 -119.4 -100.6 -147.1 -22.1 0.3 -20.7 2.1
2014.065 -94.2 -121.5 -100.8 -147.5 -23.6 1.8 -19.1 1.3
2014.095 -95.6 -118.9 -98.8 -149.1 -22.9 0.3 -20.8 2.7
2014.125 -93.2 -121.1 -98.5 -148.9 -24.2 1.2 -19.5 0.7
2014.155 -95.4 -118.4 -100.5 -147.4 -23.1 -0.5 -21.3 1.6
2014.185 -93.3 -120.1 -97.8 -149.2 -24.8 0.3 -20.2 -0.2
2014.215 -95.1 -118.6 -99.5 -147.0 -23.6 -1.1 -21.9 0.8
2014.245 -92.3 -120.8 -99.7 -147.5 -25.3 0.0 -20.5 -0.6
2014.275 -93.7 -118.2 -97.8 -149.4 -24.6 -2.0 -22.2 0.4
2014.305 -91.3 -120.4 -97.3 -149.1 -26.1 -1.1 -21.2 -1.6
2014.335 -93.4 -117.8 -99.3 -147.1 -25.1 -2.8 -23.0 -0.7
2014.365 -91.4 -119.5 -96.6 -148.9 -26.9 -2.1 -21.9 -2.6
2014.395 -93.2 -117.9 -98.3 -147.0 -25.8 -3.4 -23.7 -1.6
2014.425 -90.4 -120.1 -98.5 -147.6 -27.6 -2.3 -22.2 -2.8
2014.455 -91.8 -117.5 -96.5 -149.2 -27.0 -4.2 -24.1 -1.8
2014.485 -89.4 -119.7 -96.1 -148.9 -28.5 -3.0 -23.2 -3.5
2014.515 -91.6 -117.0 -98.0 -147.3 -27.5 -4.5 -25.0 -2.4
2014.545 -89.6 -118.7 -95.3 -149.2 -29.4 -3.4 -24.0 -3.9
2014.575 -91.4 -117.2 -97.0 -146.9 -28.3 -4.5 -25.9 -2.7
2014.605 -88.6 -119.4 -97.2 -147.5 -29.9 -3.2 -24.4 -3.7
2014.635 -90.0 -116.8 -95.3 -149.3 -29.5 -4.8 -26.4 -2.4
2014.665 -87.7 -119.0 -94.9 -148.9 -31.0 -3.5 -25.5 -4.0
2014.695 -89.2 -116.1 -96.5 -147.1 -30.1 -4.9 -27.3 -2.8
2014.725 -87.4 -118.0 -94.0 -149.1 -31.7 -3.8 -26.2 -4.3
}\duox

\pgfplotsset{
  gps/.style={
    scale only axis, width=447.6pt, anchor=north west,
    xmin=2007, xmax=2014.95,
    axis line style={line width=1.8pt},
    tick style={line width=0.6pt, black},
    tick align=inside, major tick length=3.6pt, minor tick length=3.6pt,
    xtick={2008,2010,2012,2014}, xticklabels={2008,2010,2012,2014},
    minor xtick={2009,2011,2013},
    ticklabel style={font=\fontsize{12.5}{12.5}\selectfont},
    yticklabel style={xshift=-3pt},
    xticklabel style={yshift=-2pt},
    ylabel={mm},
    ylabel style={at={(rel axis cs:0,0.5)}, anchor=center, yshift=40pt,
      font=\fontsize{16}{16}\selectfont},
  },
  p1/.style={gps, at={(57pt,-5.4pt)}, height=135.6pt, ymin=-190, ymax=-109,
    ytick={-180,-160,-140,-120}, yticklabels={−180,−160,−140,−120},
    minor ytick={-170,-150,-130,-110}},
  p2/.style={gps, at={(57pt,-171pt)}, height=134.4pt, ymin=-30, ymax=0,
    ytick={-30,-25,-20,-15,-10,-5,0}, yticklabels={−30,−25,−20,−15,−10,−5,0}},
  p3/.style={gps, at={(57pt,-336.9pt)}, height=135pt, ymin=-170, ymax=-80,
    ytick={-160,-140,-120,-100,-80}, yticklabels={−160,−140,−120,−100,−80},
    minor ytick={-150,-130,-110,-90}},
  p4/.style={gps, at={(57pt,-501.9pt)}, height=135pt, clip=false, ymin=-35.2, ymax=10,
    ytick={-30,-20,-10,0,10}, yticklabels={−30,−20,−10,0,10},
    minor ytick={-25,-15,-5,5}},
  blk/.style={only marks, mark=dot, black,
    mark options={line width=4.5pt, line cap=round}},
  ebpt/.style={only marks, mark=ebdot, black},
}

\newcommand{\station}[1]{\fontsize{26}{26}\selectfont #1}
\newcommand{\comp}[1]{\fontsize{20.8}{20.8}\selectfont #1}

\begin{document}
\begin{tikzpicture}

% ---- YZSE East-West (error bars +-1.0 mm)
\begin{axis}[p1]
\addplot[blk] table[x=t, y=a1] {\yzse};
\addplot[blk] table[x=t, y=c1] {\yzse};
\end{axis}
\def\ebl{1.67pt}\def\ebcol{red}
\begin{axis}[p1, hide axis]
\addplot[ebpt] table[x=t, y=r1] {\yzse};
\end{axis}
\def\ebcol{blue}
\begin{axis}[p1, hide axis]
\addplot[ebpt] table[x=t, y=b1] {\yzse};
\node[anchor=base west, inner sep=0pt, xshift=3pt, yshift=-21.6pt] at (rel axis cs:0,1) {\station{YZSE}};
\node[anchor=base west, inner sep=0pt, xshift=3pt, yshift=-48pt] at (rel axis cs:0,1) {\comp{East−West}};
\end{axis}

% ---- YZSE North-South (error bars +-1.2 mm)
\begin{axis}[p2]
\addplot[blk] table[x=t, y=a2] {\yzse};
\end{axis}
\def\ebl{5.38pt}\def\ebcol{red}
\begin{axis}[p2, hide axis]
\addplot[ebpt] table[x=t, y=r2] {\yzse};
\end{axis}
\def\ebcol{blue}
\begin{axis}[p2, hide axis]
\addplot[ebpt] table[x=t, y=b2] {\yzse};
\node[anchor=base west, inner sep=0pt, xshift=3pt, yshift=2.4pt] at (rel axis cs:0,0) {\comp{North−South}};
\end{axis}

% ---- DUOX East-West (error bars +-1.2 mm)
\begin{axis}[p3]
\addplot[blk] table[x=t, y=a3] {\duox};
\addplot[blk] table[x=t, y=c3] {\duox};
\end{axis}
\def\ebl{1.8pt}\def\ebcol{red}
\begin{axis}[p3, hide axis]
\addplot[ebpt] table[x=t, y=r3] {\duox};
\end{axis}
\def\ebcol{blue}
\begin{axis}[p3, hide axis]
\addplot[ebpt] table[x=t, y=b3] {\duox};
\node[anchor=base west, inner sep=0pt, xshift=3pt, yshift=-20.4pt] at (rel axis cs:0,1) {\station{DUOX}};
\node[anchor=base west, inner sep=0pt, xshift=3pt, yshift=-41.4pt] at (rel axis cs:0,1) {\comp{East−West}};
\end{axis}

% ---- DUOX North-South (error bars +-1.5 mm)
\begin{axis}[p4]
\addplot[blk] table[x=t, y=a4] {\duox};
\end{axis}
\def\ebl{4.48pt}\def\ebcol{red}
\begin{axis}[p4, hide axis]
\addplot[ebpt] table[x=t, y=r4] {\duox};
\end{axis}
\def\ebcol{blue}
\begin{axis}[p4, hide axis]
\addplot[ebpt] table[x=t, y=b4] {\duox};
\node[anchor=base west, inner sep=0pt, xshift=3pt, yshift=4.2pt] at (rel axis cs:0,0) {\comp{North−South}};
\end{axis}

\pgfresetboundingbox
\path[use as bounding box] (0,0) rectangle (503.4pt,-654pt);
\end{tikzpicture}
\end{document}
